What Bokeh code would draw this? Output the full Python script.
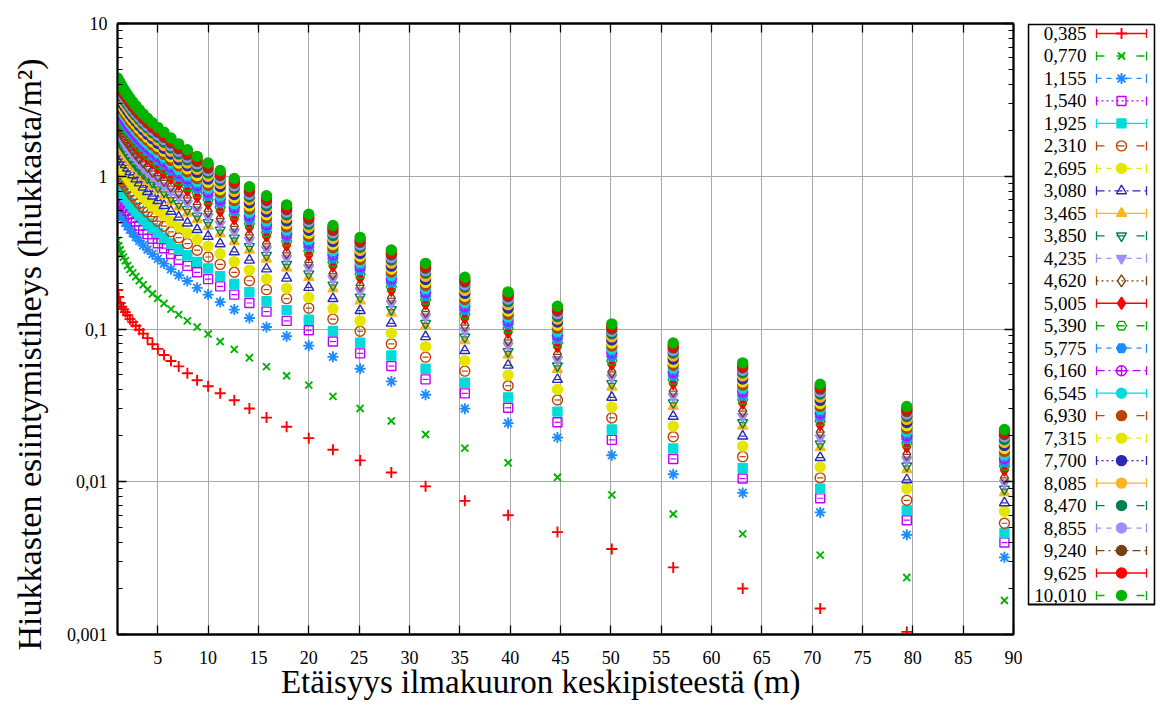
from bokeh.plotting import figure
from bokeh.models import Range1d, FixedTicker, LogAxis, LinearAxis, CustomJSTickFormatter
from bokeh.layouts import row
from bokeh.embed import file_html
from bokeh.resources import INLINE
from bokeh.core.properties import value

# ---------------- data ----------------
distance_m = [1.0, 1.12, 1.26, 1.41, 1.58, 1.78, 2.0, 2.24, 2.51, 2.82,
              3.16, 3.55, 3.98, 4.47, 5.01, 5.62, 6.31, 7.08, 7.94, 8.91,
              10.0, 11.2, 12.6, 14.1, 15.8, 17.8, 20.0, 22.4, 25.1, 28.2,
              31.6, 35.5, 39.8, 44.7, 50.1, 56.2, 63.1, 70.8, 79.4, 89.1]

series_labels = ["0,385", "0,770", "1,155", "1,540", "1,925", "2,310", "2,695",
                 "3,080", "3,465", "3,850", "4,235", "4,620", "5,005", "5,390",
                 "5,775", "6,160", "6,545", "6,930", "7,315", "7,700", "8,085",
                 "8,470", "8,855", "9,240", "9,625", "10,010"]

d_0385 = [0.180,0.162,0.148,0.140,0.135,0.129,0.123,0.116,0.111,0.105,0.0989,0.0933,0.0871,0.0794,0.0741,0.0676,0.0617,0.0569,0.0513,0.0462,0.0422,0.0380,0.0342,0.0302,0.0263,0.0229,0.0193,0.0162,0.0138,0.0115,0.00933,0.00750,0.00603,0.00468,0.00363,0.00275,0.00200,0.00148,0.00104,0.00074]
d_0770 = [0.380,0.350,0.330,0.310,0.295,0.280,0.260,0.246,0.233,0.220,0.207,0.195,0.182,0.170,0.159,0.147,0.135,0.124,0.113,0.103,0.0927,0.0828,0.0736,0.0648,0.0567,0.0494,0.0429,0.0362,0.0302,0.0250,0.0204,0.0166,0.0133,0.0107,0.00821,0.00615,0.00456,0.00331,0.00236,0.00167]
d_1155 = [0.607,0.587,0.564,0.542,0.519,0.495,0.472,0.447,0.424,0.400,0.377,0.353,0.331,0.309,0.288,0.268,0.246,0.225,0.206,0.186,0.168,0.150,0.134,0.118,0.103,0.0897,0.0778,0.0657,0.0549,0.0454,0.0371,0.0301,0.0242,0.0195,0.0149,0.0112,0.00845,0.0063,0.0045,0.0032]
d_1540 = [0.766,0.740,0.712,0.684,0.654,0.625,0.595,0.564,0.534,0.505,0.475,0.445,0.418,0.390,0.364,0.338,0.310,0.284,0.259,0.235,0.212,0.190,0.168,0.148,0.130,0.113,0.0981,0.0828,0.0693,0.0572,0.0468,0.0379,0.0305,0.0245,0.0188,0.0141,0.0105,0.0078,0.0056,0.0040]
d_1925 = [0.898,0.867,0.834,0.802,0.767,0.732,0.698,0.661,0.626,0.592,0.557,0.522,0.490,0.457,0.426,0.396,0.363,0.333,0.304,0.275,0.249,0.222,0.197,0.174,0.152,0.133,0.115,0.0971,0.0812,0.0671,0.0549,0.0445,0.0357,0.0288,0.0220,0.0165,0.0123,0.0090,0.0065,0.0046]
d_2310 = [1.07,1.03,0.994,0.955,0.914,0.872,0.831,0.787,0.746,0.705,0.663,0.622,0.583,0.544,0.508,0.471,0.433,0.396,0.362,0.328,0.296,0.265,0.235,0.207,0.181,0.158,0.137,0.116,0.0967,0.0799,0.0654,0.0530,0.0425,0.0343,0.0262,0.0197,0.0146,0.0106,0.00756,0.00535]
d_2695 = [1.25,1.21,1.17,1.12,1.07,1.02,0.975,0.923,0.875,0.827,0.778,0.730,0.684,0.638,0.596,0.553,0.507,0.465,0.425,0.385,0.348,0.311,0.276,0.243,0.213,0.185,0.161,0.136,0.113,0.0938,0.0767,0.0621,0.0499,0.0402,0.0308,0.0231,0.0171,0.0125,0.0090,0.0064]
d_3080 = [1.46,1.41,1.35,1.30,1.24,1.19,1.13,1.07,1.02,0.960,0.904,0.847,0.794,0.741,0.692,0.642,0.589,0.540,0.493,0.447,0.404,0.361,0.320,0.282,0.247,0.215,0.187,0.158,0.132,0.109,0.0890,0.0722,0.0579,0.0467,0.0357,0.0268,0.0199,0.0144,0.0103,0.00728]
d_3465 = [1.69,1.64,1.57,1.51,1.45,1.38,1.32,1.25,1.18,1.12,1.05,0.986,0.924,0.862,0.805,0.747,0.685,0.628,0.574,0.520,0.470,0.420,0.373,0.328,0.287,0.250,0.217,0.183,0.153,0.127,0.104,0.0839,0.0674,0.0543,0.0416,0.0311,0.0231,0.0167,0.0120,0.00847]
d_3850 = [1.79,1.73,1.66,1.60,1.53,1.46,1.39,1.32,1.25,1.18,1.11,1.04,0.977,0.912,0.851,0.790,0.724,0.663,0.606,0.549,0.497,0.444,0.394,0.347,0.304,0.265,0.230,0.194,0.162,0.134,0.109,0.0887,0.0712,0.0574,0.0440,0.0329,0.0244,0.0177,0.0127,0.00895]
d_4235 = [1.97,1.90,1.83,1.76,1.68,1.60,1.53,1.45,1.37,1.30,1.22,1.14,1.07,1.00,0.934,0.867,0.796,0.729,0.666,0.603,0.545,0.487,0.433,0.381,0.333,0.291,0.252,0.213,0.178,0.147,0.120,0.0974,0.0782,0.0630,0.0483,0.0362,0.0268,0.0194,0.0139,0.00983]
d_4620 = [2.13,2.06,1.98,1.90,1.82,1.74,1.66,1.57,1.49,1.40,1.32,1.24,1.16,1.08,1.01,0.939,0.862,0.789,0.721,0.653,0.590,0.528,0.469,0.413,0.361,0.315,0.273,0.230,0.193,0.159,0.130,0.106,0.0847,0.0682,0.0523,0.0392,0.0290,0.0211,0.0151,0.0106]
d_5005 = [2.39,2.31,2.22,2.13,2.04,1.95,1.86,1.76,1.67,1.57,1.48,1.39,1.30,1.22,1.13,1.05,0.967,0.885,0.809,0.733,0.662,0.592,0.526,0.463,0.405,0.353,0.306,0.258,0.216,0.179,0.146,0.118,0.0950,0.0766,0.0586,0.0439,0.0326,0.0236,0.0169,0.0119]
d_5390 = [2.53,2.44,2.35,2.26,2.16,2.06,1.97,1.86,1.77,1.67,1.57,1.47,1.38,1.29,1.20,1.12,1.02,0.937,0.857,0.776,0.702,0.627,0.557,0.490,0.429,0.374,0.324,0.274,0.229,0.189,0.155,0.125,0.101,0.0811,0.0621,0.0465,0.0345,0.0250,0.0179,0.0127]
d_5775 = [2.68,2.59,2.49,2.40,2.29,2.19,2.09,1.98,1.87,1.77,1.67,1.56,1.46,1.37,1.27,1.18,1.09,0.994,0.909,0.824,0.744,0.665,0.590,0.520,0.455,0.397,0.344,0.290,0.243,0.201,0.164,0.133,0.107,0.0860,0.0659,0.0493,0.0366,0.0265,0.0190,0.0134]
d_6160 = [2.84,2.75,2.64,2.54,2.43,2.32,2.21,2.09,1.98,1.87,1.76,1.65,1.55,1.45,1.35,1.25,1.15,1.05,0.963,0.872,0.788,0.704,0.625,0.551,0.482,0.420,0.364,0.307,0.257,0.213,0.174,0.141,0.113,0.0911,0.0698,0.0523,0.0388,0.0281,0.0201,0.0142]
d_6545 = [3.01,2.91,2.80,2.69,2.57,2.46,2.34,2.22,2.10,1.98,1.87,1.75,1.64,1.53,1.43,1.33,1.22,1.11,1.02,0.923,0.834,0.746,0.662,0.583,0.510,0.445,0.386,0.326,0.272,0.225,0.184,0.149,0.120,0.0964,0.0739,0.0553,0.0410,0.0298,0.0213,0.0150]
d_6930 = [3.15,3.04,2.93,2.81,2.69,2.57,2.45,2.32,2.20,2.08,1.95,1.83,1.72,1.60,1.50,1.39,1.27,1.17,1.07,0.967,0.874,0.780,0.693,0.611,0.534,0.465,0.404,0.341,0.285,0.236,0.193,0.156,0.125,0.101,0.0773,0.0579,0.0430,0.0311,0.0223,0.0158]
d_7315 = [3.30,3.19,3.07,2.95,2.82,2.69,2.57,2.43,2.30,2.18,2.05,1.92,1.80,1.68,1.57,1.46,1.34,1.22,1.12,1.01,0.915,0.818,0.726,0.640,0.560,0.488,0.423,0.357,0.299,0.247,0.202,0.164,0.131,0.106,0.0810,0.0607,0.0450,0.0326,0.0233,0.0165]
d_7700 = [3.45,3.34,3.21,3.09,2.95,2.82,2.68,2.54,2.41,2.28,2.14,2.01,1.88,1.76,1.64,1.52,1.40,1.28,1.17,1.06,0.958,0.856,0.760,0.670,0.586,0.510,0.443,0.374,0.312,0.258,0.211,0.171,0.137,0.111,0.0848,0.0635,0.0471,0.0341,0.0244,0.0173]
d_8085 = [3.62,3.49,3.36,3.23,3.09,2.95,2.81,2.66,2.52,2.38,2.24,2.10,1.97,1.84,1.72,1.59,1.46,1.34,1.22,1.11,1.00,0.896,0.796,0.701,0.613,0.534,0.464,0.391,0.327,0.270,0.221,0.179,0.144,0.116,0.0888,0.0665,0.0493,0.0358,0.0256,0.0181]
d_8470 = [3.79,3.66,3.52,3.38,3.24,3.09,2.94,2.79,2.64,2.50,2.35,2.20,2.07,1.93,1.80,1.67,1.53,1.40,1.28,1.16,1.05,0.938,0.833,0.734,0.642,0.560,0.486,0.410,0.343,0.283,0.232,0.188,0.151,0.121,0.0930,0.0697,0.0517,0.0375,0.0268,0.0189]
d_8855 = [3.94,3.80,3.66,3.52,3.37,3.21,3.06,2.90,2.75,2.60,2.44,2.29,2.15,2.00,1.87,1.74,1.59,1.46,1.33,1.21,1.09,0.976,0.866,0.763,0.668,0.582,0.505,0.426,0.356,0.294,0.241,0.195,0.157,0.126,0.0967,0.0724,0.0537,0.0389,0.0278,0.0197]
d_9240 = [4.09,3.95,3.80,3.65,3.49,3.34,3.18,3.01,2.85,2.69,2.54,2.38,2.23,2.08,1.94,1.80,1.65,1.51,1.38,1.25,1.13,1.01,0.899,0.792,0.693,0.604,0.524,0.442,0.370,0.306,0.250,0.203,0.163,0.131,0.100,0.0752,0.0557,0.0404,0.0289,0.0204]
d_9625 = [4.24,4.10,3.94,3.79,3.62,3.46,3.30,3.12,2.96,2.80,2.63,2.47,2.31,2.16,2.01,1.87,1.72,1.57,1.44,1.30,1.18,1.05,0.933,0.822,0.719,0.627,0.544,0.459,0.384,0.317,0.259,0.210,0.169,0.136,0.104,0.0780,0.0578,0.0419,0.0300,0.0212]
d_10010 = [4.40,4.25,4.09,3.93,3.76,3.59,3.42,3.24,3.07,2.90,2.73,2.56,2.40,2.24,2.09,1.94,1.78,1.63,1.49,1.35,1.22,1.09,0.968,0.853,0.746,0.650,0.564,0.476,0.398,0.329,0.269,0.218,0.175,0.141,0.108,0.0809,0.0600,0.0435,0.0311,0.0220]

densities = [d_0385, d_0770, d_1155, d_1540, d_1925, d_2310, d_2695, d_3080,
             d_3465, d_3850, d_4235, d_4620, d_5005, d_5390, d_5775, d_6160,
             d_6545, d_6930, d_7315, d_7700, d_8085, d_8470, d_8855, d_9240,
             d_9625, d_10010]

x_title = "Etäisyys ilmakuuron keskipisteestä (m)"
y_title = "Hiukkasten esiintymistiheys (hiukkasta/m²)"

# ---------------- styles ----------------
FONT = "Liberation Serif"
palette12 = ["#ff0000", "#00b400", "#1e8cff", "#c000ff", "#00dcdc", "#c04000",
             "#e6e600", "#2a2ab4", "#ffb41e", "#00804a", "#a08cff", "#7a4010"]
colors = [palette12[i % 12] for i in range(26)]
markers = ["cross", "x", "asterisk", "square", "square", "circle", "circle",
           "triangle", "triangle", "inverted_triangle", "inverted_triangle",
           "diamond", "diamond", "hex", "hex", "circle_cross", "circle", "circle",
           "circle", "circle", "circle", "circle", "circle", "circle", "circle", "circle"]
filled = [False, False, False, False, True, False, True, False, True, False, True,
          False, True, False, True, False, True, True, True, True, True, True, True,
          True, True, True]
sizes = {"cross": 11, "x": 10, "asterisk": 11, "square": 9, "circle": 10,
         "triangle": 10, "inverted_triangle": 10, "diamond": 12, "hex": 10,
         "circle_cross": 10}
thin = ("cross", "x", "asterisk")


def dash_of(i):
    m = i % 4
    if m == 0:
        return "solid"
    if m == 1:
        return "8 12"
    if m == 2:
        return "5 5"
    return "2 3" if (i // 4) % 2 == 0 else "8 4 2 4"


# ---------------- main figure ----------------
p = figure(width=1022, height=707, x_range=Range1d(1, 90), y_range=Range1d(0.001, 10),
           y_axis_type="log", output_backend="svg", toolbar_location=None,
           min_border_left=117, min_border_right=9, min_border_top=23,
           min_border_bottom=73)
p.background_fill_color = "white"
p.border_fill_color = "white"
p.outline_line_color = "black"
p.outline_line_width = 1.8

x_ticks = list(range(5, 95, 5))
y_major = [0.001, 0.01, 0.1, 1, 10]
y_minor = [m * 10.0 ** e for e in range(-3, 1) for m in range(2, 10)]

yfmt = CustomJSTickFormatter(code="return tick < 1 ? String(tick).replace('.', ',') : String(Math.round(tick));")


def style_axis(ax, show_labels=True):
    ax.axis_line_color = "black"
    ax.axis_line_width = 1.8
    ax.major_tick_in = 9
    ax.major_tick_out = 0
    ax.minor_tick_in = 5
    ax.minor_tick_out = 0
    ax.major_tick_line_color = "black"
    ax.minor_tick_line_color = "black"
    ax.major_tick_line_width = 1.3
    ax.minor_tick_line_width = 1.0
    ax.major_label_text_font = FONT
    ax.major_label_text_color = "black"
    if show_labels:
        ax.major_label_text_font_size = "18px"
    else:
        ax.major_label_text_font_size = "1px"
        ax.major_label_text_alpha = 0
        ax.major_label_standoff = 0


PAD = "\u00a0" * 6

xa = p.xaxis[0]
xa.ticker = FixedTicker(ticks=x_ticks, minor_ticks=[])
style_axis(xa)
xa.major_label_standoff = 16
xa.axis_label = x_title + PAD
xa.axis_label_text_font = FONT
xa.axis_label_text_font_size = "33px"
xa.axis_label_text_font_style = "normal"
xa.axis_label_text_color = "black"
xa.axis_label_standoff = -3

ya = p.yaxis[0]
ya.ticker = FixedTicker(ticks=y_major, minor_ticks=y_minor)
ya.formatter = yfmt
style_axis(ya)
ya.major_label_standoff = 10
ya.axis_label = y_title + PAD
ya.axis_label_text_font = FONT
ya.axis_label_text_font_size = "34px"
ya.axis_label_text_font_style = "normal"
ya.axis_label_text_color = "black"
ya.axis_label_standoff = 16

top_ax = LinearAxis(ticker=FixedTicker(ticks=x_ticks, minor_ticks=[]))
style_axis(top_ax, show_labels=False)
p.add_layout(top_ax, "above")
right_ax = LogAxis(ticker=FixedTicker(ticks=y_major, minor_ticks=y_minor))
style_axis(right_ax, show_labels=False)
p.add_layout(right_ax, "right")

p.xgrid.grid_line_color = "#a8a8a8"
p.ygrid.grid_line_color = "#a8a8a8"
p.xgrid.grid_line_width = 1
p.ygrid.grid_line_width = 1
p.ygrid.minor_grid_line_color = None

for i, ys in enumerate(densities):
    c = colors[i]
    mk = markers[i]
    p.scatter(distance_m, ys, marker=mk, size=sizes[mk], line_color=c,
              fill_color=c if filled[i] else None,
              line_width=1.9 if mk in thin else 1.4)
    if not filled[i] and mk not in thin:
        p.scatter(distance_m, ys, marker="dash", size=6, line_color=c, line_width=1.2)

# ---------------- key (legend), drawn in its own panel ----------------
lf = figure(width=138, height=707, x_range=Range1d(0, 128), y_range=Range1d(611, 0),
            output_backend="svg", toolbar_location=None, x_axis_location=None,
            y_axis_location=None, min_border_left=5, min_border_right=5,
            min_border_top=23, min_border_bottom=73)
lf.grid.visible = False
lf.outline_line_color = None
lf.background_fill_color = "white"
lf.border_fill_color = "white"

lf.quad(left=[0.9], right=[127.1], top=[0.9], bottom=[581], fill_color=None,
        line_color="black", line_width=1.8)

row_y = [10 + 22.48 * i for i in range(26)]
lf.text(x=[59] * 26, y=row_y, text=series_labels, text_font=value(FONT),
        text_font_size=value("19px"), text_align="right", text_baseline="middle",
        text_color="black")
for i in range(26):
    c = colors[i]
    yy = row_y[i]
    lf.segment(x0=[69], y0=[yy], x1=[119], y1=[yy], line_color=c, line_width=1.3,
               line_dash=dash_of(i))
    lf.segment(x0=[69, 119], y0=[yy - 4.5, yy - 4.5], x1=[69, 119], y1=[yy + 4.5, yy + 4.5],
               line_color=c, line_width=1.3)
    mk = markers[i]
    lf.scatter(x=[94], y=[yy], marker=mk, size=sizes[mk], line_color=c,
               fill_color=c if filled[i] else None,
               line_width=1.9 if mk in thin else 1.4)

layout = row(p, lf)
open("out.html", "w").write(file_html(layout, INLINE))
